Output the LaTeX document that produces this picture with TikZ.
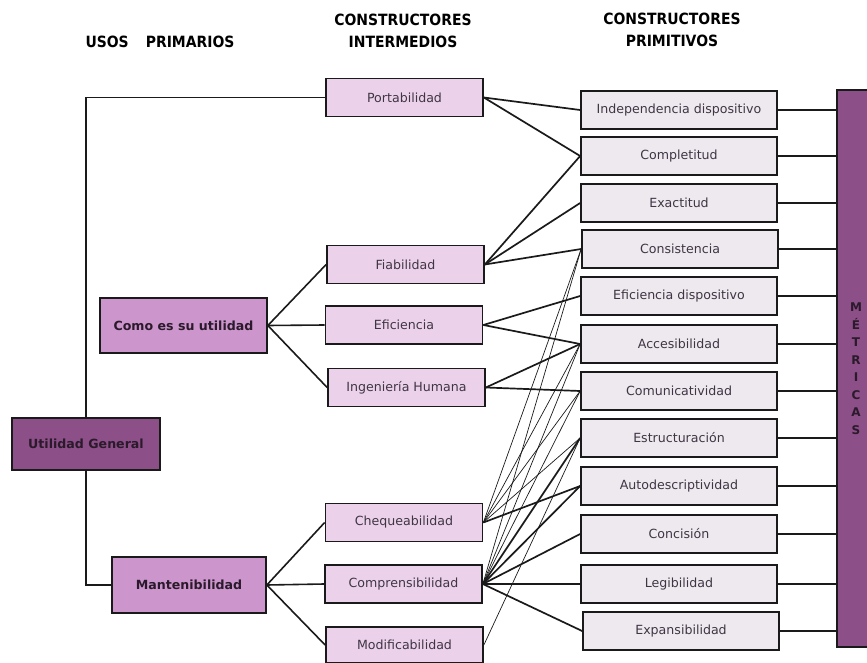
\documentclass[tikz,border=0pt]{standalone}
\usepackage{fontspec}
\setmainfont{DejaVu Sans}
\newfontfamily\headfont{DejaVu Sans Condensed}[BoldFont={DejaVu Sans Condensed Bold}]
\definecolor{ugfill}{HTML}{8C4F88}
\definecolor{usofill}{HTML}{CC96CC}
\definecolor{midfill}{HTML}{EBD2EA}
\definecolor{primfill}{HTML}{EDE9EE}
\definecolor{txtc}{HTML}{3F3545}
\definecolor{boldtxt}{HTML}{2B1A2B}
\definecolor{edgec}{HTML}{1A1A1A}
\begin{document}
\begin{tikzpicture}[x=1pt,y=-1pt,
  base/.style={draw=edgec, line width=1.7pt, rectangle, inner sep=0pt, align=center},
  uso/.style={base, fill=usofill, text=boldtxt, font=\bfseries\fontsize{12.6}{15}\selectfont},
  mid/.style={base, fill=midfill, text=txtc, minimum width=157pt, minimum height=38pt, font=\fontsize{12.6}{15}\selectfont},
  prim/.style={base, fill=primfill, text=txtc, minimum width=196pt, minimum height=38pt, font=\fontsize{12.6}{15}\selectfont},
  hdr/.style={text=black, align=center, font=\headfont\bfseries\fontsize{15.5}{22}\selectfont},
  tree/.style={draw=edgec, line width=1.6pt},
  thick link/.style={draw=edgec, line width=1.7pt},
  thin link/.style={draw=edgec, line width=0.7pt}]
\useasboundingbox (0,0) rectangle (867,663);
\clip (0,0) rectangle (867,663);

% column headings
\node[hdr] (h1) at (160,42) {USOS\hspace{1.1em}PRIMARIOS};
\node[hdr] (h2) at (403,31) {CONSTRUCTORES\\INTERMEDIOS};
\node[hdr] (h3) at (672,30) {CONSTRUCTORES\\PRIMITIVOS};

% primary uses
\node[uso, fill=ugfill, minimum width=148pt, minimum height=52pt] (ug) at (86,444) {Utilidad General};
\node[uso, minimum width=167pt, minimum height=55pt] (como) at (183.5,325.5) {Como es su utilidad};
\node[uso, minimum width=154pt, minimum height=56pt] (mant) at (189,585) {Mantenibilidad};

% intermediate constructs
\node[mid] (port)  at (404.5,97.5) {Portabilidad};
\node[mid] (fiab)  at (405.5,264.5) {Fiabilidad};
\node[mid] (efic)  at (404,325) {Eficiencia};
\node[mid] (ing)   at (406.5,387.5) {Ingeniería Humana};
\node[mid] (cheq)  at (404,522.5) {Chequeabilidad};
\node[mid] (comp)  at (403.5,584) {Comprensibilidad};
\node[mid, minimum height=36pt] (modif) at (404.5,645) {Modificabilidad};

% primitive constructs
\node[prim] (inde) at (679,110) {Independencia dispositivo};
\node[prim] (compl) at (679,156) {Completitud};
\node[prim] (exac) at (679,203) {Exactitud};
\node[prim] (cons) at (680,249) {Consistencia};
\node[prim] (efdi) at (679,296) {Eficiencia dispositivo};
\node[prim] (acce) at (679,344) {Accesibilidad};
\node[prim] (comu) at (679,391) {Comunicatividad};
\node[prim] (estr) at (679,438) {Estructuración};
\node[prim] (auto) at (679,486) {Autodescriptividad};
\node[prim] (conc) at (679,534) {Concisión};
\node[prim] (legi) at (679,584) {Legibilidad};
\node[prim] (expa) at (681,631) {Expansibilidad};

% metrics bar
\node[base, fill=ugfill, text=boldtxt, minimum width=38pt, minimum height=557pt,
      font=\bfseries\fontsize{12}{17.5}\selectfont] (met) at (856,368.5)
      {M\\É\\T\\R\\I\\C\\A\\S};

% tree of uses
\draw[tree] (ug.north) |- (port.west);
\draw[tree] (ug.south) |- (mant.west);
\foreach \n in {fiab,efic,ing} \draw[tree] (como.east) -- (\n.west);
\foreach \n in {cheq,comp,modif} \draw[tree] (mant.east) -- (\n.west);

% intermediate to primitive
\foreach \n in {inde,compl} \draw[thick link] (port.east) -- (\n.west);
\foreach \n in {compl,exac,cons} \draw[thick link] (fiab.east) -- (\n.west);
\foreach \n in {efdi,acce} \draw[thick link] (efic.east) -- (\n.west);
\foreach \n in {acce,comu} \draw[thick link] (ing.east) -- (\n.west);
\foreach \n in {cons,acce,comu,estr} \draw[thin link] (cheq.east) -- (\n.west);
\draw[thick link] (cheq.east) -- (auto.west);
\foreach \n in {cons,acce,comu} \draw[thin link] (comp.east) -- (\n.west);
\foreach \n in {estr,auto,conc,legi,expa} \draw[thick link] (comp.east) -- (\n.west);
\draw[thin link] (modif.east) -- (estr.west);

% primitive to metrics
\foreach \n in {inde,compl,exac,cons,efdi,acce,comu,estr,auto,conc,legi,expa}
  \draw[tree] (\n.east) -- (\n.east -| met.west);
\end{tikzpicture}
\end{document}
